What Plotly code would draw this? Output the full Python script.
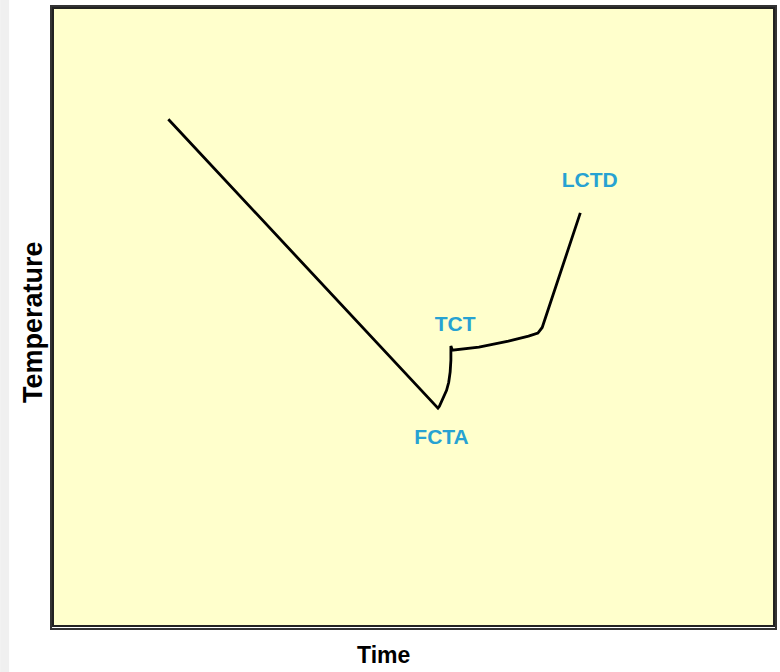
import plotly.graph_objects as go

# Data (arbitrary units, 0-100 on both axes)
time = [15.9, 53.4, 53.6, 54.2, 54.6, 54.9, 55.1, 55.2, 55.2, 55.4, 59.1, 63.2, 66.0, 67.3, 67.9, 73.2]
temperature = [82.1, 35.2, 35.5, 36.9, 38.1, 39.4, 41.1, 43.0, 45.3, 44.6, 45.1, 46.1, 46.9, 47.4, 48.3, 66.9]

label_text = ["TCT", "FCTA", "LCTD"]
label_time = [55.8, 53.9, 74.5]
label_temp = [48.6, 30.2, 71.9]

fig = go.Figure()
fig.add_trace(go.Scatter(
    x=time, y=temperature, mode="lines",
    line=dict(color="black", width=2.8),
    hoverinfo="skip", showlegend=False,
))
fig.add_trace(go.Scatter(
    x=label_time, y=label_temp, mode="text", text=label_text,
    textfont=dict(family="Liberation Sans, Arial", size=21, color="#27A2D2", weight="bold"),
    hoverinfo="skip", showlegend=False,
))

axis_common = dict(showgrid=False, zeroline=False, showticklabels=False, ticks="",
                   showline=True, mirror=True, linecolor="#222222", linewidth=2,
                   fixedrange=True)
fig.update_xaxes(range=[0, 100], **axis_common)
fig.update_yaxes(range=[0, 100], **axis_common)

W, H = 780, 672
l, r, t, b = 54, 5, 9, 47
pw, ph = W - l - r, H - t - b

def px2paper_x(px):
    return (px - l) / pw

def px2paper_y(py):
    return (H - b - py) / ph

shapes = [
    # left gray strip
    dict(type="rect", xref="paper", yref="paper",
         x0=px2paper_x(0), x1=px2paper_x(9), y0=px2paper_y(H), y1=px2paper_y(0),
         fillcolor="#F0F0F0", line=dict(width=0), layer="below"),
    # outer frame
    dict(type="rect", xref="paper", yref="paper",
         x0=px2paper_x(51), x1=px2paper_x(778), y0=px2paper_y(629), y1=px2paper_y(6),
         line=dict(color="#333333", width=2), fillcolor="rgba(0,0,0,0)"),
]

annotations = [
    dict(text="<b>Time</b>", xref="paper", yref="paper",
         x=px2paper_x(384), y=px2paper_y(655), xanchor="center", yanchor="middle",
         showarrow=False, font=dict(family="Liberation Sans, Arial", size=23, color="black")),
    dict(text="<b>Temperature</b>", xref="paper", yref="paper",
         x=px2paper_x(33), y=px2paper_y(322), xanchor="center", yanchor="middle",
         textangle=-90, showarrow=False,
         font=dict(family="Liberation Sans, Arial", size=27, color="black")),
]

fig.update_layout(
    width=W, height=H,
    margin=dict(l=l, r=r, t=t, b=b, pad=0),
    paper_bgcolor="white",
    plot_bgcolor="#FFFFCC",
    shapes=shapes,
    annotations=annotations,
)

fig.write_html(
    "out.html",
    config={"displayModeBar": False},
    post_script="document.body.style.margin='0';document.body.style.overflow='hidden';",
)
